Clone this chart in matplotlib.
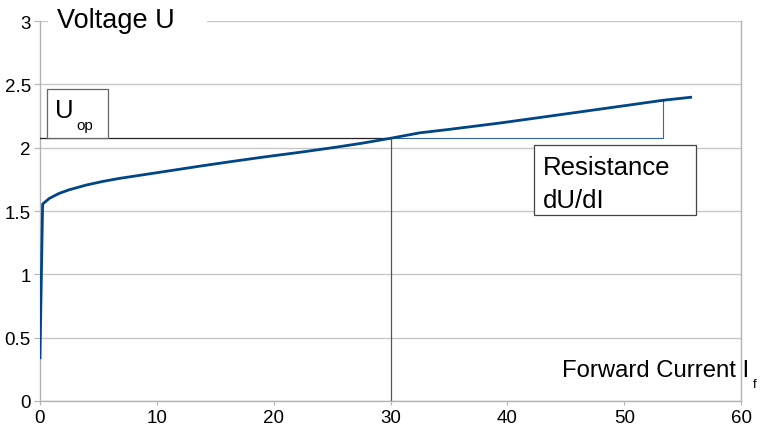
import matplotlib
matplotlib.use("Agg")
import matplotlib.pyplot as plt
from matplotlib.patches import Rectangle

plt.rcParams["font.family"] = ["Liberation Sans", "DejaVu Sans"]

# forward current (x) and voltage (y)
current = [0, 0.23, 0.8, 1.65, 2.5, 3.94, 5.37, 6.8, 8.8, 11, 13.7, 16.3,
           19, 22.3, 25, 27.5, 30, 32.5, 35, 39.4, 43, 47.9, 51, 53.3, 55.8]
voltage = [0.33, 1.555, 1.6, 1.64, 1.668, 1.705, 1.734, 1.758, 1.786,
           1.817, 1.855, 1.89, 1.925, 1.965, 2.0, 2.035, 2.075, 2.118,
           2.145, 2.196, 2.242, 2.305, 2.345, 2.375, 2.40]

i_op = 30
u_op = 2.08
i_r = 53.3
u_r = 2.375

x_ticks = [0, 10, 20, 30, 40, 50, 60]
y_ticks = [0, 0.5, 1, 1.5, 2, 2.5, 3]
y_labels = ["0", "0.5", "1", "1.5", "2", "2.5", "3"]

fig = plt.figure(figsize=(7.68, 4.35), dpi=100)
ax = fig.add_axes([0.052, 0.076, 0.913, 0.873])

ax.plot(current, voltage, color="#004586", lw=2.0, zorder=5,
        solid_joinstyle="round", solid_capstyle="butt")

# operating point lines
ax.plot([0, i_op], [u_op, u_op], color="#222222", lw=0.9, zorder=4)
ax.plot([i_op, i_op], [0, u_op], color="#555555", lw=0.9, zorder=4)
# resistance triangle
ax.plot([i_op, i_r, i_r], [u_op, u_op, u_r], color="#3465a4", lw=0.8, zorder=4)

ax.set_xlim(0, 60)
ax.set_ylim(0, 3)
ax.set_xticks(x_ticks)
ax.set_yticks(y_ticks)
ax.set_xticklabels([str(v) for v in x_ticks])
ax.set_yticklabels(y_labels)

ax.grid(axis="y", color="#c8c8c8", lw=1.0, zorder=0)
ax.set_axisbelow(True)
ax.spines["top"].set_visible(False)
for s in ["left", "bottom", "right"]:
    ax.spines[s].set_color("#b3b3b3")
    ax.spines[s].set_linewidth(1.0)
ax.tick_params(axis="y", length=4.5, color="#b3b3b3", labelsize=13.5, pad=2)
ax.tick_params(axis="x", length=3, color="#b3b3b3", labelsize=13.5, pad=3)

# title overlay hiding the top grid line
ax.add_patch(Rectangle((0.68, 2.93), 13.6, 0.14, facecolor="white",
                       edgecolor="none", zorder=3, clip_on=False))
ax.text(1.5, 2.958, "Voltage U", fontsize=19.5, va="baseline", ha="left",
        zorder=6, clip_on=False)

# U_op box
ax.add_patch(Rectangle((0.57, u_op), 5.23, 0.383, facecolor="white",
                       edgecolor="#666666", lw=0.9, zorder=6))
t_u = ax.text(1.26, 2.24, "U", fontsize=18.5, va="baseline", ha="left",
              zorder=7)
ax.annotate("op", xy=(1, 0), xycoords=t_u, xytext=(2, -4.7),
            textcoords="offset points", fontsize=11, va="baseline",
            ha="left", zorder=7)

# resistance box
ax.add_patch(Rectangle((42.3, 1.468), 13.85, 0.552, facecolor="white",
                       edgecolor="#444444", lw=0.9, zorder=6))
ax.text(43.05, 1.79, "Resistance", fontsize=18.5, va="baseline", ha="left",
        zorder=7)
ax.text(43.05, 1.534, "dU/dI", fontsize=18.5, va="baseline", ha="left",
        zorder=7)

# x axis title
t_i = ax.text(44.68, 0.196, "Forward Current I", fontsize=17.2,
              va="baseline", ha="left", zorder=7, clip_on=False)
ax.annotate("f", xy=(1, 0), xycoords=t_i, xytext=(2.5, -4.2),
            textcoords="offset points", fontsize=9.5, va="baseline",
            ha="left", zorder=7, annotation_clip=False)

fig.savefig("out.png", dpi=100)
